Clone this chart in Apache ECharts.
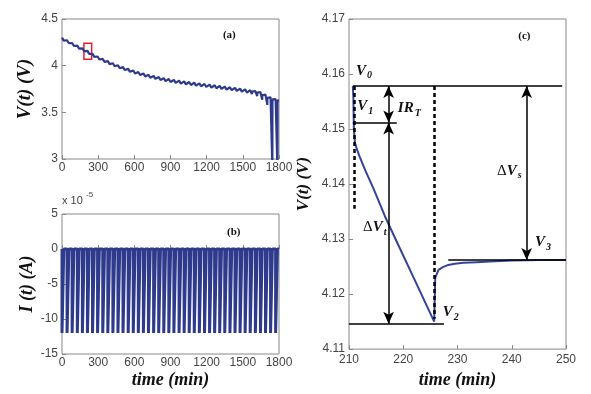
<!DOCTYPE html>
<html><head><meta charset="utf-8">
<script src="https://cdn.jsdelivr.net/npm/echarts@6/dist/echarts.min.js"></script>
<style>html,body{margin:0;padding:0;background:#fff}#c{width:591px;height:394px}</style>
</head><body><div id="c"></div>
<script>
// ---- data ----
// pulse start times (min), shared by panels (a) and (b)
const cycleStart = [0,42,84,127,169,211,253,295,338,380,422,464,506,549,591,633,675,717,760,802,844,886,928,971,1013,1055,1097,1139,1182,1224,1266,1308,1350,1393,1435,1477,1519,1561,1604,1646,1688,1730,1772];
const pulseLength = 15;          // min
const pulseCurrent = -12;        // x 1e-5 A
// panel (a): rest voltage at each pulse start and voltage at each pulse end
const vRest = [4.300,4.272,4.243,4.215,4.186,4.158,4.126,4.098,4.072,4.048,4.026,4.005,3.985,3.966,3.948,3.932,3.917,3.903,3.890,3.878,3.867,3.857,3.848,3.840,3.832,3.825,3.818,3.811,3.804,3.797,3.790,3.783,3.776,3.769,3.762,3.754,3.746,3.737,3.727,3.716,3.690,3.660,3.642];
const vEnd  = [4.268,4.240,4.211,4.183,4.154,4.126,4.094,4.066,4.040,4.016,3.994,3.973,3.953,3.934,3.916,3.900,3.885,3.871,3.858,3.846,3.835,3.825,3.816,3.808,3.800,3.793,3.786,3.779,3.772,3.765,3.758,3.751,3.744,3.737,3.730,3.722,3.712,3.695,3.675,3.635,3.580,2.900,2.900];
const vFinalTime = 1800, vFinal = 3.63;
// panel (c): zoom of one pulse
const cTime = [210.7,210.8,210.9,211.1,211.5,212.0,213.0,214.5,216.6,219.0,222.0,225.7,225.8,225.9,226.5,227.3,228.3,229.5,231.1,233.5,236.0,240.0,245.0,250.0];
const cVolt = [4.1578,4.1560,4.1500,4.1475,4.1462,4.1449,4.1425,4.1392,4.1342,4.1291,4.1228,4.1150,4.1150,4.1230,4.1244,4.1249,4.1253,4.1255,4.1257,4.1258,4.1259,4.1261,4.1262,4.1262];
const V0 = 4.1578, V1 = 4.1512, V2 = 4.1146, V3 = 4.1262;
// ticks
const xTicksAB = {min:0, max:1800, interval:300};
const yTicksA = {min:3, max:4.5, interval:0.5};
const yTicksB = {min:-15, max:5, interval:5};
const xTicksC = {min:210, max:250, interval:10};
const yTicksC = {min:4.11, max:4.17, interval:0.01};

// ---- build series data ----
const dataA = [];
const dataB = [];
for (let i = 0; i < cycleStart.length; i++) {
  const s = cycleStart[i];
  const nextT = i + 1 < cycleStart.length ? cycleStart[i+1] : vFinalTime;
  const nextV = i + 1 < cycleStart.length ? vRest[i+1] : vFinal;
  dataA.push([s, vRest[i]], [s + pulseLength, vEnd[i]], [s + pulseLength + 0.8, nextV - 0.004], [nextT, nextV]);
  dataB.push([s, 0], [s, pulseCurrent], [s + pulseLength, pulseCurrent], [s + pulseLength, 0], [nextT, 0]);
}
const dataC = cTime.map((t, i) => [t, cVolt[i]]);

const blue = '#2e3a8c';
const tickFont = {color:'#444', fontSize:12, fontFamily:'Liberation Sans, Arial, sans-serif'};
const titleFont = {fontFamily:'Liberation Serif, "Times New Roman", serif', fontStyle:'italic', fontWeight:'bold', fontSize:18, color:'#111'};

function xAx(gi, t, name, gap, margin) {
  return {gridIndex:gi, type:'value', min:t.min, max:t.max, interval:t.interval,
    axisLine:{show:false}, splitLine:{show:false},
    axisTick:{inside:true, length:4, lineStyle:{color:'#888'}},
    axisLabel:Object.assign({margin:margin, formatter:v => String(v)}, tickFont),
    name:name, nameLocation:'middle', nameGap:gap, nameTextStyle:titleFont};
}
function yAx(gi, t, name, gap, fmt, fs) {
  return {gridIndex:gi, type:'value', min:t.min, max:t.max, interval:t.interval,
    axisLine:{show:false}, splitLine:{show:false},
    axisTick:{inside:true, length:4, lineStyle:{color:'#888'}},
    axisLabel:Object.assign({margin:4, formatter:fmt}, tickFont),
    name:name, nameLocation:'middle', nameGap:gap, nameTextStyle:Object.assign({}, titleFont, {fontSize:fs})};
}
const gridStyle = {show:true, borderColor:'#888', borderWidth:1, backgroundColor:'#fff'};

const lab = {fontFamily:'Liberation Serif, "Times New Roman", serif', fontStyle:'italic', fontWeight:'bold', color:'#111'};
const rich = {
  v:Object.assign({fontSize:15}, lab),
  s:Object.assign({fontSize:10, padding:[10,0,0,1]}, lab),
  d:{fontFamily:'Liberation Serif, serif', fontSize:15, color:'#111'},
  p:{fontFamily:'Liberation Serif, "Times New Roman", serif', fontWeight:'bold', fontSize:11, color:'#111'}
};
function txt(t, v, f) {
  return {coord:[t, v], label:{show:true, formatter:f, rich:rich, position:'right', distance:0, align:'left', verticalAlign:'middle'}};
}
const blackLine = {color:'#000', width:1.5, type:'solid'};

const option = {
  animation:false,
  backgroundColor:'#fff',
  grid:[
    Object.assign({left:62, top:19, width:217, height:140}, gridStyle),
    Object.assign({left:62, top:214, width:217, height:140}, gridStyle),
    Object.assign({left:349, top:19, width:217, height:337}, gridStyle)
  ],
  xAxis:[
    xAx(0, xTicksAB, '', 0, 3),
    xAx(1, xTicksAB, 'time (min)', 17, 3),
    xAx(2, xTicksC, 'time (min)', 16, 5)
  ],
  yAxis:[
    yAx(0, yTicksA, 'V(t) (V)', 27, v => String(v), 19),
    yAx(1, yTicksB, 'I (t) (A)', 25, v => String(v), 18),
    yAx(2, yTicksC, 'V(t) (V)', 37, v => v.toFixed(2), 17)
  ],
  graphic:[
    {type:'text', left:62, top:195, style:{text:'x 10', fontSize:11, fill:'#444', fontFamily:'Liberation Sans, Arial, sans-serif'}},
    {type:'text', left:86, top:191, style:{text:'-5', fontSize:8, fill:'#444', fontFamily:'Liberation Sans, Arial, sans-serif'}}
  ],
  series:[
    {type:'line', xAxisIndex:0, yAxisIndex:0, data:dataA, showSymbol:false, clip:true,
      lineStyle:{color:blue, width:2.2}, itemStyle:{color:blue},
      markArea:{silent:true, itemStyle:{color:'rgba(0,0,0,0)', borderColor:'#e0202a', borderWidth:1.5},
        data:[[{coord:[182, 4.24]}, {coord:[246, 4.068]}]]},
      markPoint:{symbolSize:0, data:[txt(1335, 4.33, '{p|(a)}')]}
    },
    {type:'line', xAxisIndex:1, yAxisIndex:1, data:dataB, showSymbol:false, clip:true,
      lineStyle:{color:blue, width:3}, itemStyle:{color:blue},
      markPoint:{symbolSize:0, data:[txt(1369, 2.4, '{p|(b)}')]}
    },
    {type:'line', xAxisIndex:2, yAxisIndex:2, data:dataC, showSymbol:false, clip:true,
      lineStyle:{color:'#34449a', width:2}, itemStyle:{color:'#34449a'}, z:3,
      markLine:{silent:true, symbol:['none','none'], label:{show:false}, lineStyle:blackLine, animation:false,
        data:[
          [{coord:[210.7, V0]}, {coord:[249.3, V0]}],
          [{coord:[210.7, V1]}, {coord:[218.8, V1]}],
          [{coord:[210.0, V2]}, {coord:[227.5, V2]}],
          [{coord:[228.3, V3]}, {coord:[250.0, V3]}],
          [{coord:[211.0, V0], lineStyle:{type:[4,3], width:2.5, color:'#000'}}, {coord:[211.0, 4.1355]}],
          [{coord:[225.7, V0], lineStyle:{type:[4,3], width:2.5, color:'#000'}}, {coord:[225.7, 4.1155]}]
        ]},
      markPoint:{symbolSize:0, data:[
        txt(211.3, 4.1606, '{v|V}{s|0}'),
        txt(211.5, 4.1541, '{v|V}{s|1}'),
        txt(219.0, 4.1538, '{v|IR}{s|T}'),
        txt(237.3, 4.1424, '{d|Δ}{v|V}{s|s}'),
        txt(212.6, 4.1322, '{d|Δ}{v|V}{s|t}'),
        txt(227.3, 4.1167, '{v|V}{s|2}'),
        txt(244.3, 4.1294, '{v|V}{s|3}'),
        txt(241.2, 4.1668, '{p|(c)}')
      ]}
    },
    {type:'line', xAxisIndex:2, yAxisIndex:2, data:[], z:4,
      markLine:{silent:true, symbol:['arrow','arrow'], symbolSize:[8,12], label:{show:false}, lineStyle:blackLine, itemStyle:{color:'#000'}, animation:false,
        data:[
          [{coord:[217.3, V0]}, {coord:[217.3, V1]}],
          [{coord:[217.3, V1]}, {coord:[217.3, V2]}],
          [{coord:[242.75, V0]}, {coord:[242.75, V3]}]
        ]}
    }
  ]
};
const chart = echarts.init(document.getElementById('c'), null, {renderer:'canvas'});
chart.setOption(option);
</script>
</body></html>
